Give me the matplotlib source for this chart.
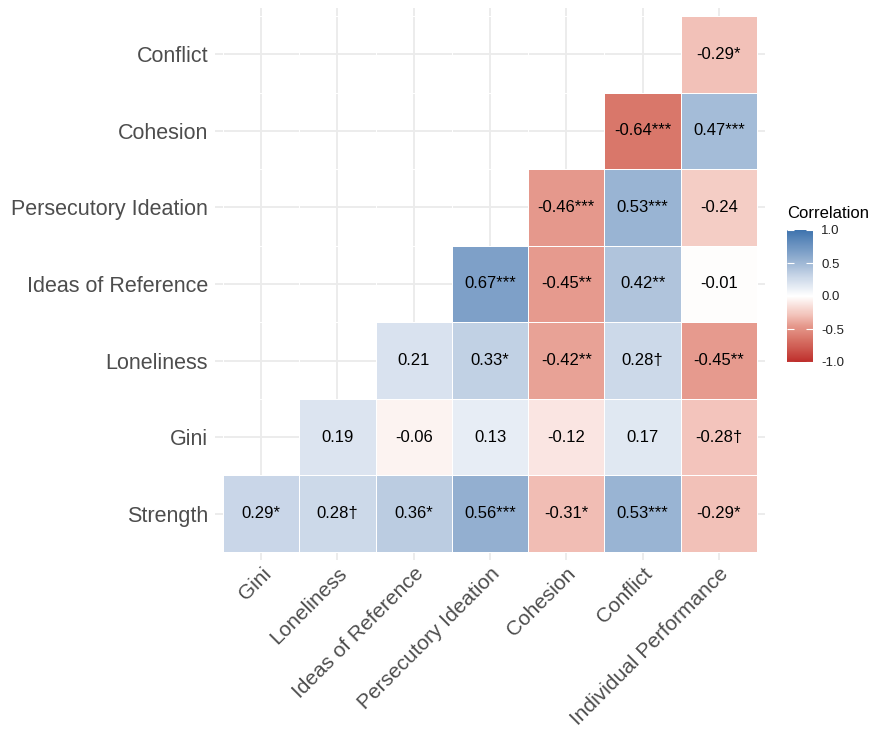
import numpy as np
import matplotlib
matplotlib.use("Agg")
import matplotlib.pyplot as plt
from matplotlib.colors import LinearSegmentedColormap

# row labels bottom -> top, column labels left -> right
row_labels = ["Strength", "Gini", "Loneliness", "Ideas of Reference",
              "Persecutory Ideation", "Cohesion", "Conflict"]
col_labels = ["Gini", "Loneliness", "Ideas of Reference", "Persecutory Ideation",
              "Cohesion", "Conflict", "Individual Performance"]

# correlations (None = not shown)
r_strength = [0.29, 0.28, 0.36, 0.56, -0.31, 0.53, -0.29]
r_gini = [None, 0.19, -0.06, 0.13, -0.12, 0.17, -0.28]
r_loneliness = [None, None, 0.21, 0.33, -0.42, 0.28, -0.45]
r_ideas = [None, None, None, 0.67, -0.45, 0.42, -0.01]
r_persecutory = [None, None, None, None, -0.46, 0.53, -0.24]
r_cohesion = [None, None, None, None, None, -0.64, 0.47]
r_conflict = [None, None, None, None, None, None, -0.29]

# significance markers
s_strength = ["*", "\u2020", "*", "***", "*", "***", "*"]
s_gini = ["", "", "", "", "", "", "\u2020"]
s_loneliness = ["", "", "", "*", "**", "\u2020", "**"]
s_ideas = ["", "", "", "***", "**", "**", ""]
s_persecutory = ["", "", "", "", "***", "***", ""]
s_cohesion = ["", "", "", "", "", "***", "***"]
s_conflict = ["", "", "", "", "", "", "*"]

corr = [r_strength, r_gini, r_loneliness, r_ideas, r_persecutory, r_cohesion, r_conflict]
sig = [s_strength, s_gini, s_loneliness, s_ideas, s_persecutory, s_cohesion, s_conflict]

vals = np.array([[np.nan if v is None else v for v in row] for row in corr])
masked = np.ma.masked_invalid(vals)

plt.rcParams['font.family'] = ['Liberation Sans', 'DejaVu Sans']

# diverging scale red - white - blue (anchors mimic a Lab-space gradient)
cmap = LinearSegmentedColormap.from_list("rdbu", [
    (0.0, "#BE2F2C"), (0.18, "#D9776A"), (0.275, "#E69A8E"), (0.355, "#F2C2B9"),
    (0.5, "#FFFFFF"),
    (0.645, "#CAD7E8"), (0.78, "#93AFD0"), (0.835, "#7EA0C8"), (1.0, "#3F74AE")])

fig = plt.figure(figsize=(8.71, 7.30), dpi=100)
ax = fig.add_axes([215/871, 1 - 560/730, 550/871, 552/730])

n = len(col_labels)
edges = np.arange(n + 1) - 0.5
mesh = ax.pcolormesh(edges, edges, masked, cmap=cmap, vmin=-1, vmax=1,
                     edgecolors="white", linewidth=0.6, zorder=2)

for i in range(n):
    for j in range(n):
        if corr[i][j] is None:
            continue
        txt = f"{corr[i][j]:.2f}" + sig[i][j]
        ax.text(j, i, txt, ha="center", va="center", fontsize=12,
                color="black", zorder=3)

ax.set_xlim(-0.605, n - 1 + 0.605)
ax.set_ylim(-0.605, n - 1 + 0.605)
ax.set_xticks(range(n))
ax.set_yticks(range(n))
ax.set_xticklabels(col_labels, rotation=45, ha="right", va="top",
                   rotation_mode="anchor", fontsize=15, color="#4D4D4D")
ax.set_yticklabels(row_labels, fontsize=15.5, color="#4D4D4D")
ax.tick_params(axis="y", length=0, pad=5)
ax.tick_params(axis="x", length=0, pad=3)
ax.grid(True, color="#EBEBEB", linewidth=1.3, zorder=0)
ax.set_axisbelow(True)
for s in ax.spines.values():
    s.set_visible(False)

# colour bar legend
cax = fig.add_axes([787/871, 1 - 362/730, 26/871, 132/730])
cb = fig.colorbar(mesh, cax=cax, ticks=[-1, -0.5, 0, 0.5, 1])
cb.outline.set_visible(False)
cb.ax.set_yticklabels(["-1.0", "-0.5", "0.0", "0.5", "1.0"])
cb.ax.tick_params(which="both", direction="in", color="white", length=5,
                  width=0.8, left=True, right=True, labelsize=9.5,
                  labelcolor="#222222", pad=6)
fig.text(787/871, 1 - 214/730, "Correlation", ha="left", va="center", fontsize=12)

fig.savefig("out.png", dpi=100)
